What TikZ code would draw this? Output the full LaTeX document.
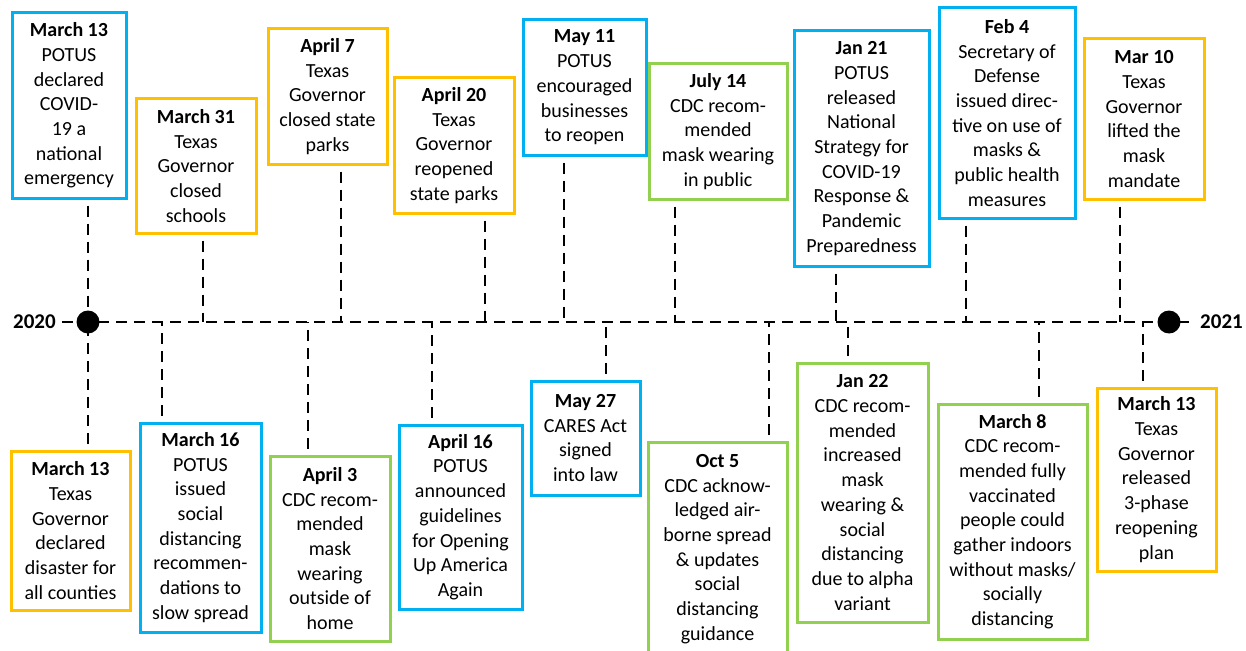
\documentclass[tikz,border=0pt]{standalone}
\usepackage{fontspec}
\setmainfont{Carlito}
\usetikzlibrary{positioning, calc}
\definecolor{fedblue}{RGB}{0,176,240}
\definecolor{texasyellow}{RGB}{255,192,0}
\definecolor{cdcgreen}{RGB}{146,208,80}

\begin{document}
\begin{tikzpicture}[x=1pt, y=-1pt,
    event/.style={draw, line width=3pt, align=center, inner sep=0pt,
                  font=\fontsize{20}{24.7}\selectfont},
    fed/.style={event, draw=fedblue},
    tx/.style={event, draw=texasyellow},
    cdc/.style={event, draw=cdcgreen},
    link/.style={line width=2.8pt, dash pattern=on 11pt off 7pt, shorten <=6pt},
    axisline/.style={line width=2.8pt, dash pattern=on 11pt off 7pt, shorten <=6pt, shorten >=6pt},
    dot/.style={circle, fill=black, inner sep=0pt, minimum size=23pt},
    year/.style={font=\fontsize{21}{25}\selectfont\bfseries, inner sep=0pt}]
    \useasboundingbox (0,0) rectangle (1246,650);

    % events above the line
    \node[fed, minimum width=114, minimum height=185] (b1) at (69,105.5)
      {\textbf{March 13}\\POTUS\\declared\\COVID-\\19 a\\national\\emergency};
    \node[tx, minimum width=120, minimum height=134] (b2) at (196,166)
      {\textbf{March 31}\\Texas\\Governor\\closed\\schools};
    \node[tx, minimum width=119, minimum height=135] (b3) at (327.5,96.5)
      {\textbf{April 7}\\Texas\\Governor\\closed state\\parks};
    \node[tx, minimum width=120, minimum height=135] (b4) at (454,145.5)
      {\textbf{April 20}\\Texas\\Governor\\reopened\\state parks};
    \node[fed, minimum width=123, minimum height=135] (b5) at (584.5,87.5)
      {\textbf{May 11}\\POTUS\\encouraged\\businesses\\to reopen};
    \node[cdc, minimum width=138, minimum height=135] (b6) at (718,131.5)
      {\textbf{July 14}\\CDC recom-\\mended\\mask wearing\\in public};
    \node[fed, minimum width=135, minimum height=235] (b7) at (861.5,148.5)
      {\textbf{Jan 21}\\POTUS\\released\\National\\Strategy for\\COVID-19\\Response \&\\Pandemic\\Preparedness};
    \node[fed, minimum width=136, minimum height=210] (b8) at (1007,113)
      {\textbf{Feb 4}\\Secretary of\\Defense\\issued direc-\\tive on use of\\masks \&\\public health\\measures};
    \node[tx, minimum width=120, minimum height=160] (b9) at (1144,119)
      {\textbf{Mar 10}\\Texas\\Governor\\lifted the\\mask\\mandate};

    % events below the line
    \node[tx, minimum width=119, minimum height=159] (c1) at (70.5,530.5)
      {\textbf{March 13}\\Texas\\Governor\\declared\\disaster for\\all counties};
    \node[fed, minimum width=121, minimum height=209] (c2) at (200.5,527.5)
      {\textbf{March 16}\\POTUS\\issued\\social\\distancing\\recommen-\\dations to\\slow spread};
    \node[cdc, minimum width=120, minimum height=185] (c3) at (330,548.5)
      {\textbf{April 3}\\CDC recom-\\mended\\mask\\wearing\\outside of\\home};
    \node[fed, minimum width=123, minimum height=184] (c4) at (460.5,517)
      {\textbf{April 16}\\POTUS\\announced\\guidelines\\for Opening\\Up America\\Again};
    \node[fed, minimum width=109, minimum height=114] (c5) at (585.5,438)
      {\textbf{May 27}\\CARES Act\\signed\\into law};
    \node[cdc, minimum width=139, minimum height=214] (c6) at (717.5,549)
      {\textbf{Oct 5}\\CDC acknow-\\ledged air-\\borne spread\\\& updates\\social\\distancing\\guidance};
    \node[cdc, minimum width=131, minimum height=259] (c7) at (862.5,492.5)
      {\textbf{Jan 22}\\CDC recom-\\mended\\increased\\mask\\wearing \&\\social\\distancing\\due to alpha\\variant};
    \node[cdc, minimum width=149, minimum height=235] (c8) at (1012.5,521.5)
      {\textbf{March 8}\\CDC recom-\\mended fully\\vaccinated\\people could\\gather indoors\\without masks/\\socially\\distancing};
    \node[tx, minimum width=119, minimum height=183] (c9) at (1156.5,479.5)
      {\textbf{March 13}\\Texas\\Governor\\released\\3-phase\\reopening\\plan};

    % time line
    \node[year, anchor=west] (y20) at (13,322) {2020};
    \node[year, anchor=east] (y21) at (1243,322) {2021};
    \draw[axisline] (y20.east) -- (y21.west);
    \node[dot] (d20) at (88,322) {};
    \node[dot] (d21) at (1169,322) {};

    \foreach \n/\dx in {b1/19, b2/7, b3/13.5, b4/31, b5/-20.5, b6/-43, b7/-25.5, b8/-41, b9/-24}
      \draw[link] ([xshift=\dx]\n.south) -- ([xshift=\dx]\n.south |- d20);
    \foreach \n/\dx in {c1/17.5, c2/-38.5, c3/-22, c4/-28.5, c5/20.5, c6/51.5, c7/-14.5, c8/26.5, c9/-13.5}
      \draw[link] ([xshift=\dx]\n.north) -- ([xshift=\dx]\n.north |- d20);
\end{tikzpicture}
\end{document}
